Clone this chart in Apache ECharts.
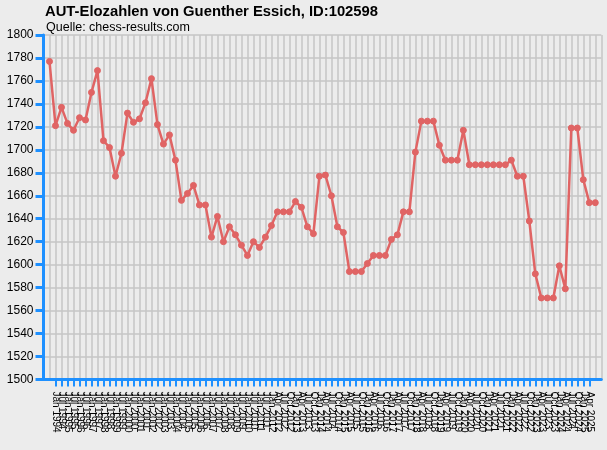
<!DOCTYPE html>
<html>
<head>
<meta charset="utf-8">
<script src="https://cdn.jsdelivr.net/npm/echarts@6/dist/echarts.min.js"></script>
<style>
html,body{margin:0;padding:0;background:#ececec;}
#chart{width:607px;height:450px;}
</style>
</head>
<body>
<div id="chart"></div>
<script>
// Rating list dates: semiannual Jul 1993 .. Jan 2012, then quarterly .. Jul 2025
const semiannualDates = [
  "Jul 1993","Jan 1994","Jul 1994","Jan 1995","Jul 1995","Jan 1996","Jul 1996","Jan 1997","Jul 1997",
  "Jan 1998","Jul 1998","Jan 1999","Jul 1999","Jan 2000","Jul 2000","Jan 2001","Jul 2001","Jan 2002",
  "Jul 2002","Jan 2003","Jul 2003","Jan 2004","Jul 2004","Jan 2005","Jul 2005","Jan 2006","Jul 2006",
  "Jan 2007","Jul 2007","Jan 2008","Jul 2008","Jan 2009","Jul 2009","Jan 2010","Jul 2010","Jan 2011",
  "Jul 2011","Jan 2012"
];
const quarterlyDates = [
  "Apr 2012","Jul 2012","Oct 2012",
  "Jan 2013","Apr 2013","Jul 2013","Oct 2013",
  "Jan 2014","Apr 2014","Jul 2014","Oct 2014",
  "Jan 2015","Apr 2015","Jul 2015","Oct 2015",
  "Jan 2016","Apr 2016","Jul 2016","Oct 2016",
  "Jan 2017","Apr 2017","Jul 2017","Oct 2017",
  "Jan 2018","Apr 2018","Jul 2018","Oct 2018",
  "Jan 2019","Apr 2019","Jul 2019","Oct 2019",
  "Jan 2020","Apr 2020","Jul 2020","Oct 2020",
  "Jan 2021","Apr 2021","Jul 2021","Oct 2021",
  "Jan 2022","Apr 2022","Jul 2022","Oct 2022",
  "Jan 2023","Apr 2023","Jul 2023","Oct 2023",
  "Jan 2024","Apr 2024","Jul 2024","Oct 2024",
  "Jan 2025","Apr 2025","Jul 2025"
];
const eloValues = [
  1777,1721,1737,1723,1717,1728,1726,1750,1769,1708,
  1702,1677,1697,1732,1724,1727,1741,1762,1722,1705,
  1713,1691,1656,1662,1669,1652,1652,1624,1642,1620,
  1633,1626,1617,1608,1620,1615,1624,1634,1646,1646,
  1646,1655,1650,1633,1627,1677,1678,1660,1633,1628,
  1594,1594,1594,1601,1608,1608,1608,1622,1626,1646,
  1646,1698,1725,1725,1725,1704,1691,1691,1691,1717,
  1687,1687,1687,1687,1687,1687,1687,1691,1677,1677,
  1638,1592,1571,1571,1571,1599,1579,1719,1719,1674,
  1654,1654
];
const yMin = 1500, yMax = 1800, yStep = 20;

const dates = semiannualDates.concat(quarterlyDates);
// one empty slot at each end of the category axis for the plot margins
const xCats = [''].concat(dates, ['']);
const seriesData = [null].concat(eloValues, [null]);
const lastIdx = xCats.length - 1;
const inner = (i) => i > 0 && i < lastIdx;

const chart = echarts.init(document.getElementById('chart'), null, {renderer: 'canvas'});
chart.setOption({
  animation: false,
  backgroundColor: '#ececec',
  title: [
    {text: 'AUT-Elozahlen von Guenther Essich, ID:102598', left: 45, top: 4, padding: 0,
     textStyle: {fontFamily: 'Liberation Sans, Arial, sans-serif', fontSize: 14.8, fontWeight: 'bold', color: '#000'}},
    {text: 'Quelle: chess-results.com', left: 46, top: 21, padding: 0,
     textStyle: {fontFamily: 'Liberation Sans, Arial, sans-serif', fontSize: 12.5, fontWeight: 'normal', color: '#000'}}
  ],
  grid: {left: 43.5, right: 5.7, top: 35, bottom: 70.5, containLabel: false},
  xAxis: {
    type: 'category',
    data: xCats,
    boundaryGap: false,
    axisLine: {show: true, lineStyle: {color: '#1e90ff', width: 3}},
    axisTick: {show: true, length: 7, interval: (i) => inner(i), lineStyle: {color: '#1e90ff', width: 2}},
    axisLabel: {
      interval: (i) => inner(i), rotate: -90, margin: 12,
      fontFamily: 'Liberation Sans, Arial, sans-serif', fontSize: 10, color: '#000'
    },
    splitLine: {show: true, interval: (i) => i > 0, lineStyle: {color: '#c6c6c6', width: 1.5}}
  },
  yAxis: {
    type: 'value',
    min: yMin, max: yMax, interval: yStep,
    axisLine: {show: true, lineStyle: {color: '#1e90ff', width: 3}},
    axisTick: {show: true, length: 8, lineStyle: {color: '#1e90ff', width: 3}},
    axisLabel: {margin: 10, formatter: (v) => String(v),
      fontFamily: 'Liberation Sans, Arial, sans-serif', fontSize: 12, color: '#000'},
    splitLine: {show: true, lineStyle: {color: '#c6c6c6', width: 1.5}}
  },
  series: [{
    type: 'line',
    data: seriesData,
    connectNulls: false,
    symbol: 'circle',
    symbolSize: 6,
    showAllSymbol: true,
    lineStyle: {color: '#e06464', width: 2.5},
    itemStyle: {color: '#e06464', borderColor: '#e06464', borderWidth: 1}
  }]
});
</script>
</body>
</html>
